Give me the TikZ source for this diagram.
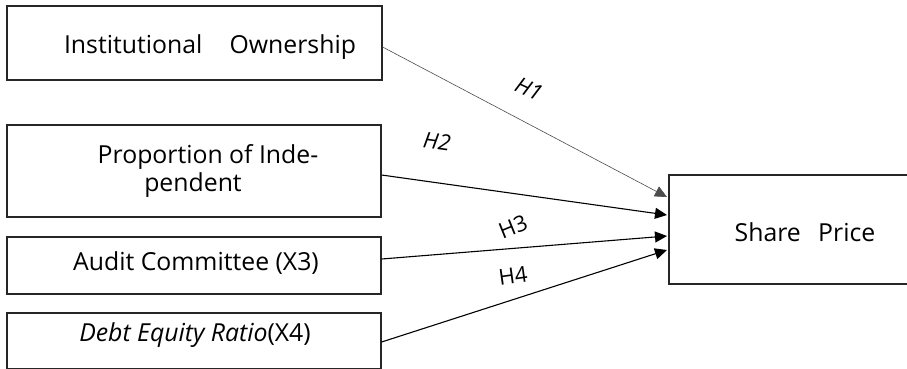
\documentclass[tikz,border=0pt]{standalone}
\usepackage{fontspec}
\setmainfont{Open Sans}
\usetikzlibrary{arrows.meta}
\begin{document}
\begin{tikzpicture}[x=1pt,y=-1pt,
  box/.style={draw=black!85,line width=1.6pt,minimum width=#1,inner sep=0pt,anchor=north west},
  lbl/.style={font=\fontsize{24.8}{28}\selectfont,inner sep=0pt},
  hyp/.style={font=\fontsize{22}{24}\selectfont\itshape,inner sep=0pt},
  hypu/.style={font=\fontsize{22}{24}\selectfont,inner sep=0pt},
  con/.style={line width=1.1pt,-{Triangle[length=12pt,width=11pt]}},
  conthin/.style={line width=0.6pt,draw=black!70,-{Triangle[length=12pt,width=11pt]}}]
\useasboundingbox (0,0) rectangle (907,368);
\node[box=375pt,minimum height=74pt] (b1) at (6,5) {};
\node[box=374pt,minimum height=92pt] (b2) at (6,124) {};
\node[box=374pt,minimum height=57pt] (b3) at (6,236) {};
\node[box=374pt,minimum height=56pt] (b4) at (6,312) {};
\node[box=245pt,minimum height=109pt] (sp) at (668,174) {};
\node[lbl] (t1) at (210,47) {Institutional\hspace{1.1em}Ownership};
\node[lbl] (t2a) at (208,157) {Proportion of Inde-};
\node[lbl] (t2b) at (193,185) {pendent};
\node[lbl] (t3) at (196,263) {Audit Committee (X3)};
\node[lbl] (t4) at (195,335) {\textit{Debt Equity Ratio}(X4)};
\node[lbl] (t5) at (805,232) {Share\hspace{0.7em}Price};
\coordinate (e1) at (667,197);
\coordinate (e2) at (667,215);
\coordinate (e3) at (667,236);
\coordinate (e4) at (667,250);
\draw[conthin] (b1.east |- 0,47) -- (e1);
\draw[con] (b2.east |- 0,175) -- (e2);
\draw[con] (b3.east |- 0,259) -- (e3);
\draw[con] (b4.east |- 0,342) -- (e4);
\node[hyp,rotate=-25] (h1) at (529,89) {H1};
\node[hyp,rotate=-8] (h2) at (437,141) {H2};
\node[hypu,rotate=22] (h3) at (513,227) {H3};
\node[hypu,rotate=8] (h4) at (513,276) {H4};
\end{tikzpicture}
\end{document}
